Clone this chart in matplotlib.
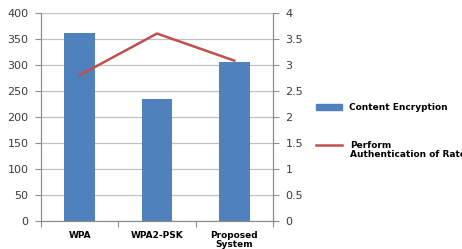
import matplotlib.pyplot as plt
from matplotlib.patches import Rectangle
from matplotlib.lines import Line2D

categories = ['WPA', 'WPA2-PSK', 'Proposed\nSystem']
encryption = [362, 235, 305]
auth_rate = [2.8, 3.6, 3.08]

bar_color = '#4F81BD'
line_color = '#C0504D'
text_color = '#3a3a3a'
axis_color = '#8c8c8c'

fig = plt.figure(figsize=(4.62, 2.49), dpi=100)
ax = fig.add_axes([0.0887, 0.1124, 0.5022, 0.8365])
x = list(range(len(categories)))

ax.bar(x, encryption, width=0.4, color=bar_color, zorder=2)
ax.set_xlim(-0.5, 2.5)
ax.set_ylim(0, 400)
ax.set_yticks(range(0, 401, 50))
ax.yaxis.grid(True, color='#c0c0c0', linewidth=0.9)
ax.set_axisbelow(True)

# category labels between tick marks
ax.set_xticks([-0.5, 0.5, 1.5, 2.5])
ax.set_xticklabels([])
ax.tick_params(axis='x', length=4, color=axis_color, direction='out')
for xi, lab in zip(x, categories):
    ax.text(xi, -19, lab, ha='center', va='top', fontsize=6.5, fontweight='bold',
            color='black', linespacing=0.95)

ax.tick_params(axis='y', length=4, color=axis_color, labelsize=8,
               labelcolor=text_color, pad=5)
for side in ['left', 'bottom', 'right']:
    ax.spines[side].set_color(axis_color)
ax.spines['top'].set_visible(False)

ax2 = ax.twinx()
ax2.plot(x, auth_rate, color=line_color, linewidth=1.8)
ax2.set_ylim(0, 4)
ax2.set_yticks([0, 0.5, 1, 1.5, 2, 2.5, 3, 3.5, 4])
ax2.set_yticklabels(['0', '0.5', '1', '1.5', '2', '2.5', '3', '3.5', '4'])
ax2.tick_params(axis='y', length=4, color=axis_color, labelsize=8,
                labelcolor=text_color, pad=5)
for side in ['left', 'bottom', 'right']:
    ax2.spines[side].set_color(axis_color)
ax2.spines['top'].set_visible(False)

# legend drawn by hand to keep the Excel look
W, H = 462, 249
fig.patches.append(Rectangle((316 / W, 1 - 110 / H), 26 / W, 5.5 / H,
                             transform=fig.transFigure, color=bar_color))
fig.text(349 / W, 1 - 107 / H, 'Content Encryption', fontsize=6.5,
         fontweight='bold', va='center', ha='left', color='black')
fig.lines.append(Line2D([316 / W, 342 / W], [1 - 145 / H, 1 - 145 / H],
                        transform=fig.transFigure, color=line_color, linewidth=1.8))
fig.text(350 / W, 1 - 141 / H, 'Perform\nAuthentication of Rate', fontsize=6.5,
         fontweight='bold', va='top', ha='left', color='black', linespacing=0.95)

fig.savefig('out.png', dpi=100)
